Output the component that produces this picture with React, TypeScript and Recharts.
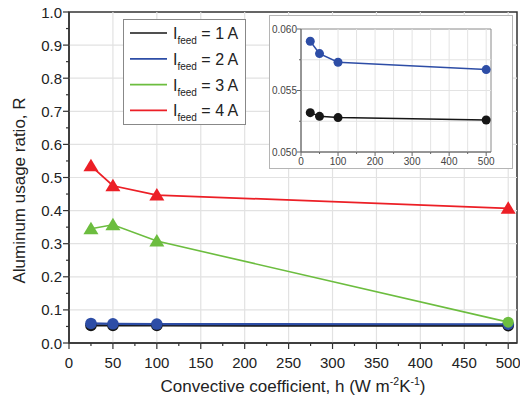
import React from "react";
import {
  LineChart,
  Line,
  XAxis,
  YAxis,
  ReferenceLine,
  ReferenceArea,
  Label,
} from "recharts";

// convective coefficient h (W m^-2 K^-1)
const hValues = [25, 50, 100, 500];
// aluminum usage ratio R for each feed current
const r1A = [0.0532, 0.0529, 0.0528, 0.0526];
const r2A = [0.059, 0.058, 0.0573, 0.0567];
const r3A = [0.345, 0.357, 0.308, 0.063];
const r4A = [0.535, 0.475, 0.447, 0.407];

const xMajor = [0, 50, 100, 150, 200, 250, 300, 350, 400, 450, 500];
const xMinor = [25, 75, 125, 175, 225, 275, 325, 375, 425, 475];
const yMajor = [0, 0.1, 0.2, 0.3, 0.4, 0.5, 0.6, 0.7, 0.8, 0.9, 1.0];
const yMinor = [0.05, 0.15, 0.25, 0.35, 0.45, 0.55, 0.65, 0.75, 0.85, 0.95];

const insetXMajor = [0, 100, 200, 300, 400, 500];
const insetXMinor = [50, 150, 250, 350, 450];
const insetYMajor = [0.05, 0.055, 0.06];
const insetYMinor = [0.0525, 0.0575];

const series = [
  { key: "i1", label: "1 A", color: "#161616", values: r1A, width: 2.2, shapes: ["c", "c", "c", "c"] },
  { key: "i2", label: "2 A", color: "#2d4da6", values: r2A, width: 2.2, shapes: ["c", "c", "c", "c"] },
  { key: "i3", label: "3 A", color: "#6cbd3f", values: r3A, width: 1.6, shapes: ["t", "t", "t", "c"] },
  { key: "i4", label: "4 A", color: "#ec1f26", values: r4A, width: 1.8, shapes: ["t", "t", "t", "t"] },
];

const data = hValues.map((h, i) => {
  const row: Record<string, number> = { h };
  series.forEach((s) => {
    row[s.key] = s.values[i];
  });
  return row;
});

const FONT = "'Liberation Sans', Arial, sans-serif";
const sortNum = (a: number[]) => [...a].sort((p, q) => p - q);

const makeDot = (color: string, shapes: string[], r: number) => (props: any) => {
  const { cx, cy, index } = props;
  if (cx == null || cy == null) return <g key={`d-${index}`} />;
  if (shapes[index] === "t") {
    const s = r * 1.3;
    return (
      <polygon
        key={`d-${index}`}
        points={`${cx},${cy - s} ${cx - s * 1.05},${cy + s * 0.75} ${cx + s * 1.05},${cy + s * 0.75}`}
        fill={color}
      />
    );
  }
  return <circle key={`d-${index}`} cx={cx} cy={cy} r={r} fill={color} />;
};

const MainXTick = (props: any) => {
  const { x, y, payload } = props;
  const major = xMajor.includes(payload.value);
  return (
    <g>
      <line x1={x} x2={x} y1={y} y2={y + (major ? 6 : 3)} stroke="#333" strokeWidth={1.2} />
      {major && (
        <text x={x} y={y + 25} textAnchor="middle" fontSize={15} fill="#222" fontFamily={FONT}>
          {payload.value}
        </text>
      )}
    </g>
  );
};

const MainYTick = (props: any) => {
  const { x, y, payload } = props;
  const major = yMajor.some((v) => Math.abs(v - payload.value) < 1e-9);
  return (
    <g>
      <line x1={x - (major ? 6 : 3)} x2={x} y1={y} y2={y} stroke="#333" strokeWidth={1.2} />
      {major && (
        <text x={x - 7} y={y + 5.5} textAnchor="end" fontSize={15} fill="#222" fontFamily={FONT}>
          {payload.value.toFixed(1)}
        </text>
      )}
    </g>
  );
};

const InsetXTick = (props: any) => {
  const { x, y, payload } = props;
  const major = insetXMajor.includes(payload.value);
  return (
    <g>
      <line x1={x} x2={x} y1={y} y2={y + (major ? 4 : 2)} stroke="#666" strokeWidth={1} />
      {major && (
        <text x={x} y={y + 13} textAnchor="middle" fontSize={10} fill="#444" fontFamily={FONT}>
          {payload.value}
        </text>
      )}
    </g>
  );
};

const InsetYTick = (props: any) => {
  const { x, y, payload } = props;
  const major = insetYMajor.some((v) => Math.abs(v - payload.value) < 1e-9);
  return (
    <g>
      <line x1={x - (major ? 4 : 2)} x2={x} y1={y} y2={y} stroke="#666" strokeWidth={1} />
      {major && (
        <text x={x - 4} y={y + 3.5} textAnchor="end" fontSize={10} fill="#444" fontFamily={FONT}>
          {payload.value.toFixed(3)}
        </text>
      )}
    </g>
  );
};

const XTitle = (props: any) => {
  const vb = props.viewBox || {};
  const cx = vb.x + vb.width / 2;
  const cy = vb.y + 49;
  return (
    <text x={cx} y={cy} textAnchor="middle" fontSize={17} fill="#222" fontFamily={FONT}>
      Convective coefficient, h (W m
      <tspan fontSize={10.5} dy={-7}>-2</tspan>
      <tspan dy={7}>K</tspan>
      <tspan fontSize={10.5} dy={-7}>-1</tspan>
      <tspan dy={7}>)</tspan>
    </text>
  );
};

const YTitle = (props: any) => {
  const vb = props.viewBox || {};
  const cx = vb.x + 25;
  const cy = vb.y + vb.height / 2 + 13;
  return (
    <text
      x={cx}
      y={cy}
      textAnchor="middle"
      fontSize={17}
      fill="#222"
      fontFamily={FONT}
      transform={`rotate(-90, ${cx}, ${cy})`}
    >
      Aluminum usage ratio, R
    </text>
  );
};

function LegendBox() {
  return (
    <div
      style={{
        position: "absolute",
        left: 123,
        top: 19,
        width: 123,
        height: 106,
        boxSizing: "border-box",
        border: "1px solid #888",
        background: "#fff",
      }}
    >
      <svg width={121} height={104} style={{ display: "block" }}>
        {series.map((s, i) => {
          const cy = 13 + i * 25.8;
          return (
            <g key={s.key}>
              <line x1={6} x2={43} y1={cy} y2={cy} stroke={s.color} strokeWidth={1.7} />
              <text x={49} y={cy + 6} fontSize={16} fill="#222" fontFamily={FONT}>
                I
                <tspan fontSize={10} dy={5}>feed</tspan>
                <tspan dy={-5}>{` = ${s.label}`}</tspan>
              </text>
            </g>
          );
        })}
      </svg>
    </div>
  );
}

function Inset() {
  const insetSeries = series.filter((s) => s.key === "i1" || s.key === "i2");
  return (
    <div
      style={{
        position: "absolute",
        left: 269,
        top: 15,
        width: 244,
        height: 154,
        boxSizing: "border-box",
        border: "1px solid #b5b5b5",
        background: "#fff",
      }}
    >
      <div style={{ position: "absolute", left: -1, top: -1 }}>
        <LineChart width={244} height={154} data={data} margin={{ top: 14, right: 22, bottom: 0, left: 0 }}>
          {[...insetXMinor, ...insetXMajor.slice(1)].map((v) => (
            <ReferenceLine key={`ix-${v}`} x={v} stroke="#e3e3e3" strokeWidth={1} />
          ))}
          {[0.0525, 0.055, 0.0575].map((v) => (
            <ReferenceLine key={`iy-${v}`} y={v} stroke="#e3e3e3" strokeWidth={1} />
          ))}
          <ReferenceArea x1={0} x2={513} y1={0.05} y2={0.06} fill="none" stroke="#8a8a8a" strokeWidth={1} />
          <XAxis
            dataKey="h"
            type="number"
            domain={[0, 513]}
            ticks={sortNum([...insetXMajor, ...insetXMinor])}
            interval={0}
            tick={<InsetXTick />}
            tickLine={false}
            tickSize={0}
            tickMargin={0}
            height={17}
            axisLine={{ stroke: "#666", strokeWidth: 1 }}
            allowDataOverflow
          />
          <YAxis
            type="number"
            domain={[0.05, 0.06]}
            ticks={sortNum([...insetYMajor, ...insetYMinor])}
            interval={0}
            tick={<InsetYTick />}
            tickLine={false}
            tickSize={0}
            tickMargin={0}
            width={32}
            axisLine={{ stroke: "#666", strokeWidth: 1 }}
            allowDataOverflow
          />
          {insetSeries.map((s) => (
            <Line
              key={s.key}
              dataKey={s.key}
              type="linear"
              stroke={s.color}
              strokeWidth={1.5}
              dot={makeDot(s.color, s.shapes, 4.5)}
              activeDot={false}
              isAnimationActive={false}
            />
          ))}
        </LineChart>
      </div>
    </div>
  );
}

export default function App() {
  return (
    <div
      style={{
        position: "absolute",
        left: 0,
        top: 0,
        width: 520,
        height: 405,
        background: "#fff",
        fontFamily: FONT,
      }}
    >
      <LineChart width={520} height={405} data={data} margin={{ top: 12, right: 3, bottom: 0, left: 0 }}>
        {xMajor.slice(1).map((v) => (
          <ReferenceLine key={`gx-${v}`} x={v} stroke="#e2e2e2" strokeWidth={1.2} />
        ))}
        {yMajor.slice(1, -1).map((v) => (
          <ReferenceLine key={`gy-${v}`} y={v} stroke="#e2e2e2" strokeWidth={1.2} />
        ))}
        <ReferenceArea x1={0} x2={510} y1={0} y2={1} fill="none" stroke="#333" strokeWidth={1.5} />
        <XAxis
          dataKey="h"
          type="number"
          domain={[0, 510]}
          ticks={sortNum([...xMajor, ...xMinor])}
          interval={0}
          tick={<MainXTick />}
          tickLine={false}
          tickSize={0}
          tickMargin={0}
          height={62}
          axisLine={{ stroke: "#333", strokeWidth: 1.5 }}
          allowDataOverflow
        >
          <Label content={(p: any) => <XTitle {...p} />} />
        </XAxis>
        <YAxis
          type="number"
          domain={[0, 1]}
          ticks={sortNum([...yMajor, ...yMinor])}
          interval={0}
          tick={<MainYTick />}
          tickLine={false}
          tickSize={0}
          tickMargin={0}
          width={69}
          axisLine={{ stroke: "#333", strokeWidth: 1.5 }}
          allowDataOverflow
        >
          <Label content={(p: any) => <YTitle {...p} />} />
        </YAxis>
        {series.map((s) => (
          <Line
            key={s.key}
            dataKey={s.key}
            type="linear"
            stroke={s.color}
            strokeWidth={s.width}
            dot={makeDot(s.color, s.shapes, s.key === "i3" || s.key === "i4" ? 5.5 : 5.8)}
            activeDot={false}
            isAnimationActive={false}
          />
        ))}
      </LineChart>
      <LegendBox />
      <Inset />
    </div>
  );
}
